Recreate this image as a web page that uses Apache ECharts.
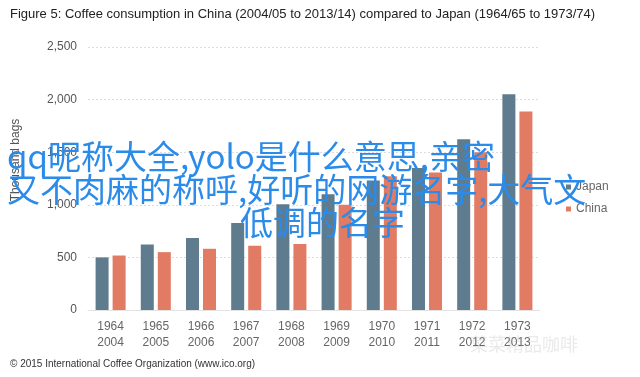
<!DOCTYPE html>
<html><head><meta charset="utf-8">
<script src="https://cdn.jsdelivr.net/npm/echarts@6/dist/echarts.min.js"></script>
<style>html,body{margin:0;padding:0;background:#fff}#c{width:640px;height:377px}</style>
</head><body><div id="c"></div>
<script>
const yearsJapan = ['1964','1965','1966','1967','1968','1969','1970','1971','1972','1973'];
const yearsChina = ['2004','2005','2006','2007','2008','2009','2010','2011','2012','2013'];
const japanValues = [500, 623, 684, 827, 1005, 1100, 1230, 1350, 1622, 2052];
const chinaValues = [518, 550, 582, 611, 627, 1000, 1272, 1307, 1500, 1887];
const yTicks = [0, 500, 1000, 1500, 2000, 2500];
const titleText = 'Figure 5: Coffee consumption in China (2004/05 to 2013/14) compared to Japan (1964/65 to 1973/74)';
const yAxisName = 'Thousand bags';
const footerText = '\u00A9 2015 International Coffee Organization (www.ico.org)';
const overlayLines = ['qq昵称大全,yolo是什么意思,亲密', '又不肉麻的称呼,好听的网游名字,大气文', '低调的名字'];
const watermark = '菜菜精品咖啡';

const categories = yearsJapan.map((y, i) => y + '\n' + yearsChina[i]);
const chart = echarts.init(document.getElementById('c'), null, {renderer: 'canvas'});
chart.setOption({
  animation: false,
  backgroundColor: '#fff',
  title: {
    text: titleText, left: 5, top: 3,
    textStyle: {fontFamily: 'Liberation Sans', fontSize: 13, fontWeight: 'normal', color: '#222'}
  },
  grid: {left: 88, right: 100, top: 47, bottom: 67, containLabel: false, outerBoundsMode: 'none'},
  legend: {
    orient: 'vertical', left: 561, top: 176, itemWidth: 5, itemHeight: 5, itemGap: 10,
    icon: 'rect',
    textStyle: {fontFamily: 'Liberation Sans', fontSize: 12, color: '#666'},
    data: ['Japan', 'China']
  },
  xAxis: {
    type: 'category', data: categories,
    axisLine: {lineStyle: {color: '#e3e3e3', width: 1}},
    axisTick: {show: false},
    axisLabel: {fontFamily: 'Liberation Sans', fontSize: 12, color: '#666', lineHeight: 16, margin: 9}
  },
  yAxis: {
    type: 'value', min: yTicks[0], max: yTicks[yTicks.length - 1], interval: 500,
    axisLine: {show: false}, axisTick: {show: false},
    axisLabel: {fontFamily: 'Liberation Sans', fontSize: 12, color: '#555', margin: 11,
      formatter: v => v.toLocaleString('en-US')},
    splitLine: {lineStyle: {color: '#dddddd', type: [2, 2]}}
  },
  series: [
    {name: 'Japan', type: 'bar', data: japanValues, barWidth: 13, barGap: '31%',
     itemStyle: {color: '#5f7b8e'}},
    {name: 'China', type: 'bar', data: chinaValues, barWidth: 13,
     itemStyle: {color: '#e27b63'}}
  ],
  graphic: [
    {type: 'text', x: 16, y: 160, rotation: Math.PI / 2,
     style: {text: yAxisName, font: '12px "Liberation Sans"', fill: '#555', align: 'center', verticalAlign: 'middle'}},
    {type: 'text', left: 10, top: 359, style: {text: footerText, font: '10px "Liberation Sans"', fill: '#333'}},
    {type: 'text', left: 470, top: 335, z: 50, style: {text: watermark, font: '18px "Noto Sans CJK SC"', fill: 'rgba(170,170,170,0.25)'}},
    {type: 'text', left: 7, top: 140, z: 100, style: {text: overlayLines[0], font: '33px "Noto Sans CJK SC"', fill: '#2a8be8'}},
    {type: 'text', left: 7, top: 173, z: 100, style: {text: overlayLines[1], font: '33px "Noto Sans CJK SC"', fill: '#2a8be8'}},
    {type: 'text', left: 240, top: 206, z: 100, style: {text: overlayLines[2], font: '33px "Noto Sans CJK SC"', fill: '#2a8be8'}}
  ]
});
</script></body></html>
